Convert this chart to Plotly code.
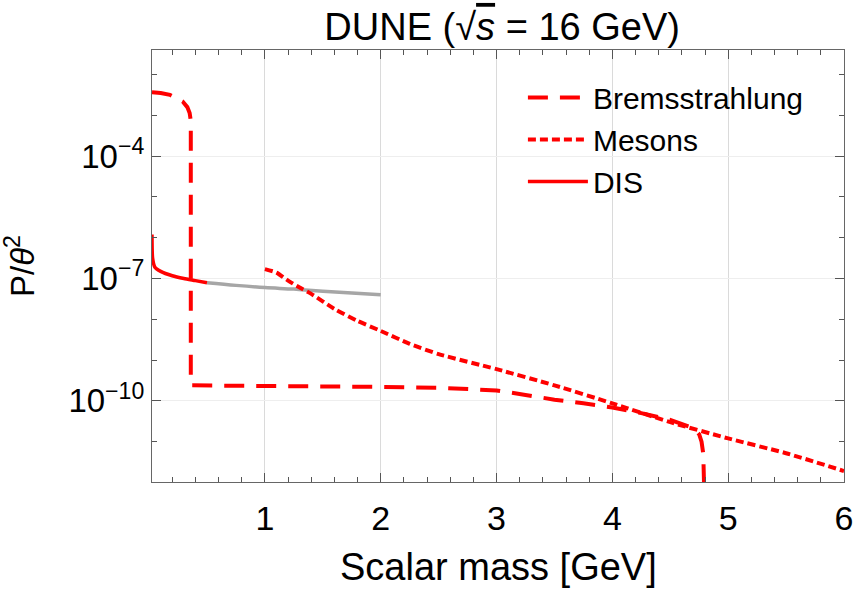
import plotly.graph_objects as go

# ---- data ----
brems_x = [0.025, 0.1, 0.18, 0.25, 0.29, 0.33, 0.35, 0.358, 0.36, 0.36,
           1.0, 2.0, 2.5, 3.0, 3.25, 3.5, 3.75, 4.0, 4.25, 4.5, 4.67, 4.72,
           4.75, 4.77, 4.785, 4.8]
brems_y = [3.7e-3, 3.55e-3, 3.2e-3, 2.6e-3, 2.2e-3, 1.6e-3, 1.15e-3, 8.0e-4, 5.0e-4, 2.4e-10,
           2.35e-10, 2.2e-10, 2.1e-10, 1.8e-10, 1.4e-10, 1.07e-10, 8.7e-11, 6.9e-11, 5.0e-11, 3.4e-11,
           2.3e-11, 1.9e-11, 1.5e-11, 1.0e-11, 5.0e-12, 1.0e-13]

mesons_x = [1.0, 1.1, 1.2, 1.3, 1.4, 1.6, 1.8, 2.0, 2.25, 2.5, 3.0, 3.5, 4.0, 4.5, 5.0, 5.5, 6.0]
mesons_y = [1.7e-7, 1.4e-7, 8.9e-8, 6.0e-8, 4.2e-8, 1.8e-8, 9.1e-9, 5.2e-9, 2.5e-9, 1.4e-9,
            6.0e-10, 2.4e-10, 8.7e-11, 3.0e-11, 1.2e-11, 5.2e-12, 1.9e-12]

dis_x = [0.025, 0.03, 0.05, 0.1, 0.2, 0.3, 0.4, 0.5]
dis_y = [1.2e-6, 3.2e-7, 1.9e-7, 1.5e-7, 1.17e-7, 1.0e-7, 8.9e-8, 7.9e-8]

dis_ext_x = [0.5, 0.75, 1.0, 1.25, 1.5, 1.75, 2.0]
dis_ext_y = [7.9e-8, 6.8e-8, 6.0e-8, 5.5e-8, 4.9e-8, 4.4e-8, 4.0e-8]

y_tickvals = [1e-4, 1e-7, 1e-10]
y_ticktext = ["10<sup>\u22124</sup>", "10<sup>\u22127</sup>", "10<sup>\u221210</sup>"]
x_tickvals = [1, 2, 3, 4, 5, 6]

RED = "#FF0000"
FONT = "Liberation Sans, Arial, sans-serif"

fig = go.Figure()
fig.add_trace(go.Scatter(x=dis_ext_x, y=dis_ext_y, mode="lines", showlegend=False,
                         line=dict(color="#A6A6A6", width=3.5, shape="spline")))
fig.add_trace(go.Scatter(x=brems_x, y=brems_y, mode="lines", name="Bremsstrahlung",
                         line=dict(color=RED, width=4, dash="20px,12px")))
fig.add_trace(go.Scatter(x=mesons_x, y=mesons_y, mode="lines", name="Mesons",
                         line=dict(color=RED, width=4, dash="8px,4px", shape="spline", smoothing=0.6)))
fig.add_trace(go.Scatter(x=dis_x, y=dis_y, mode="lines", name="DIS",
                         line=dict(color=RED, width=3.5, shape="spline", smoothing=0.6)))

fig.update_layout(
    width=865, height=592,
    margin=dict(l=152, r=12, t=50, b=110),
    paper_bgcolor="white", plot_bgcolor="white",
    font=dict(family=FONT, color="black", size=32),
    title=dict(text="DUNE (\u221a<span style='text-decoration:overline'><i>s</i></span> = 16 GeV)",
               x=0.5805, xanchor="center", y=0.955, yanchor="middle",
               font=dict(size=38, family=FONT)),
    legend=dict(x=0.536, y=0.95, xanchor="left", yanchor="top",
                bgcolor="rgba(0,0,0,0)", font=dict(size=30, family=FONT),
                itemwidth=60, tracegroupgap=0),
    showlegend=True,
)

fig.update_xaxes(
    range=[0.025, 6], tickmode="array", tickvals=x_tickvals,
    ticks="inside", ticklen=9, tickwidth=1.2, tickcolor="#555",
    showline=True, linecolor="#666", linewidth=1.2, mirror="allticks",
    showgrid=True, gridcolor="#DADADA", gridwidth=1.2,
    tickfont=dict(size=34, family=FONT), zeroline=False, ticklabelstandoff=6,
    minor=dict(dtick=0.2, tick0=0, ticks="inside", ticklen=5, tickcolor="#555", showgrid=False),
)
fig.update_yaxes(
    type="log", range=[-11.99, -1.395], tickmode="array",
    tickvals=y_tickvals, ticktext=y_ticktext,
    ticks="inside", ticklen=9, tickwidth=1.2, tickcolor="#555",
    showline=True, linecolor="#666", linewidth=1.2, mirror="allticks",
    showgrid=True, gridcolor="#EEEEEE", gridwidth=1,
    tickfont=dict(size=33, family=FONT), zeroline=False,
    minor=dict(tickmode="array", tickvals=[10.0 ** k for k in range(-12, -1)],
               ticks="inside", ticklen=5, tickcolor="#555", showgrid=False),
)

fig.add_annotation(text="Scalar mass [GeV]", xref="paper", yref="paper",
                   x=0.5, y=-0.197, xanchor="center", yanchor="middle",
                   showarrow=False, font=dict(size=38, family=FONT))
fig.add_annotation(text="P/<i>\u03b8</i><sup>2</sup>", xref="paper", yref="paper",
                   x=0, xshift=-132, y=0.5, xanchor="center", yanchor="middle",
                   textangle=-90, showarrow=False, font=dict(size=33, family=FONT))

fig.write_html("out.html")
